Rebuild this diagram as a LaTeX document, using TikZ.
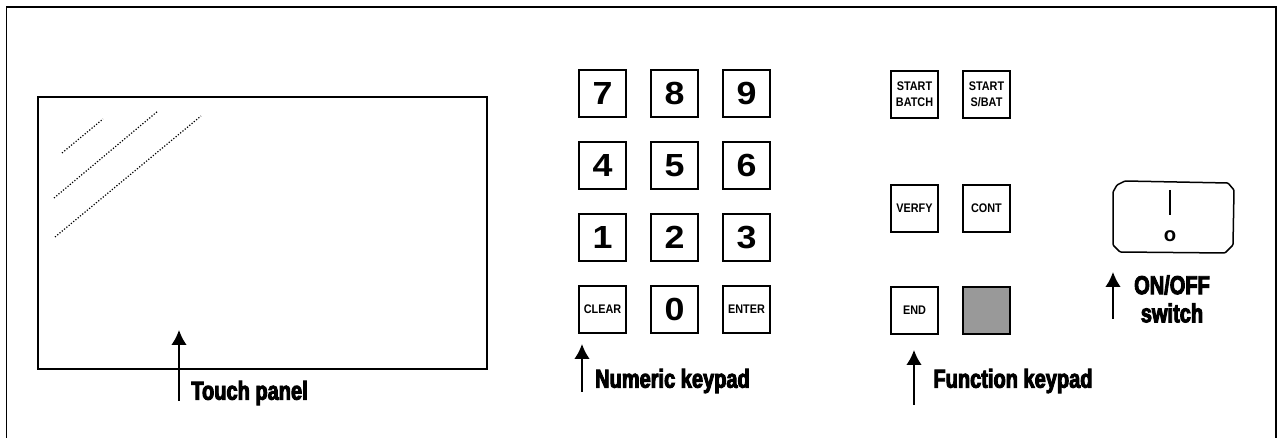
\documentclass[tikz,border=0pt]{standalone}
\usepackage{fontspec}
\usetikzlibrary{arrows.meta}
\setmainfont{Liberation Sans}
\newfontfamily\capfont[FakeStretch=0.77,FakeBold=3.6]{Liberation Sans Bold}
\newfontfamily\tagfont[FakeStretch=0.87]{Liberation Sans Bold}
\newfontfamily\digitfont[FakeStretch=1.12]{Liberation Sans Bold}
\begin{document}
\begin{tikzpicture}[
    x=0.02cm, y=-0.02cm,
    keybox/.style={draw, line width=0.033cm, minimum size=0.95cm, inner sep=0pt, align=center},
    numkey/.style={keybox, font=\digitfont\fontsize{18.2}{20}\selectfont},
    tagkey/.style={keybox, font=\tagfont\fontsize{7.1}{9}\selectfont},
    caption/.style={inner sep=0pt, align=center, font=\capfont\fontsize{14.8}{16}\selectfont},
    arrow/.style={-{Latex[length=0.3cm,width=0.31cm]}, line width=0.035cm},
    glare/.style={densely dotted, line width=0.024cm}
]
    \useasboundingbox (0,0) rectangle (1279,438);
    \draw[line width=0.04cm] (6.5,438) -- (6.5,7.5) -- (1276,7.5) -- (1276,438);
    \node[draw, line width=0.03cm, minimum width=8.98cm, minimum height=5.44cm, inner sep=0pt] (panel) at (262.5,233) {};
    \draw[glare] (62,153) -- (103,119);
    \draw[glare] (54,198) -- (158,111);
    \draw[glare] (55,237) -- (201,116);

    \node[numkey] (k7) at (602.5,93.5) {7};
    \node[numkey] (k8) at (674.5,93.5) {8};
    \node[numkey] (k9) at (746.5,93.5) {9};
    \node[numkey] (k4) at (602.5,165.5) {4};
    \node[numkey] (k5) at (674.5,165.5) {5};
    \node[numkey] (k6) at (746.5,165.5) {6};
    \node[numkey] (k1) at (602.5,237.5) {1};
    \node[numkey] (k2) at (674.5,237.5) {2};
    \node[numkey] (k3) at (746.5,237.5) {3};
    \node[tagkey] (clear) at (602.5,309.5) {CLEAR};
    \node[numkey] (k0) at (674.5,309.5) {0};
    \node[tagkey] (enter) at (746.5,309.5) {ENTER};

    \node[tagkey] (startbatch) at (914.5,94.5) {START\\BATCH};
    \node[tagkey] (startsbat) at (986.5,94.5) {START\\S/BAT};
    \node[tagkey] (verfy) at (914.5,208.5) {VERFY};
    \node[tagkey] (cont) at (986.5,208.5) {CONT};
    \node[tagkey] (endkey) at (914.5,310.5) {END};
    \node[keybox, fill=black!40] (blank) at (986.5,310.5) {};

    \draw[line width=0.03cm, rounded corners=0.02cm] (1125,181) -- (1228,183) -- (1234,190) -- (1233,245) -- (1225,253) -- (1120,252) -- (1113,245) -- (1113,192) -- (1117,185) -- cycle;
    \draw[line width=0.03cm] (1170,190) -- (1170,215);
    \node[inner sep=0pt, font=\bfseries\fontsize{11.5}{12}\selectfont] (off) at (1170,236) {o};

    \node[caption] (touch) at (249.5,393) {Touch panel};
    \node[caption] (numeric) at (672.5,381) {Numeric keypad};
    \node[caption] (function) at (1013,381) {Function keypad};
    \node[caption] (onoff) at (1172,285) {ON/OFF};
    \node[caption] (switch) at (1172,313) {switch};

    \coordinate (touchtail) at (179,401);
    \coordinate (touchtip) at (179,330);
    \coordinate (numerictail) at (582,392);
    \coordinate (numerictip) at (582,344);
    \coordinate (functiontail) at (914,405);
    \coordinate (functiontip) at (914,350);
    \coordinate (switchtail) at (1113,319);
    \coordinate (switchtip) at (1113,272);
    \draw[arrow] (touchtail) -- (touchtip);
    \draw[arrow] (numerictail) -- (numerictip);
    \draw[arrow] (functiontail) -- (functiontip);
    \draw[arrow] (switchtail) -- (switchtip);
\end{tikzpicture}
\end{document}
